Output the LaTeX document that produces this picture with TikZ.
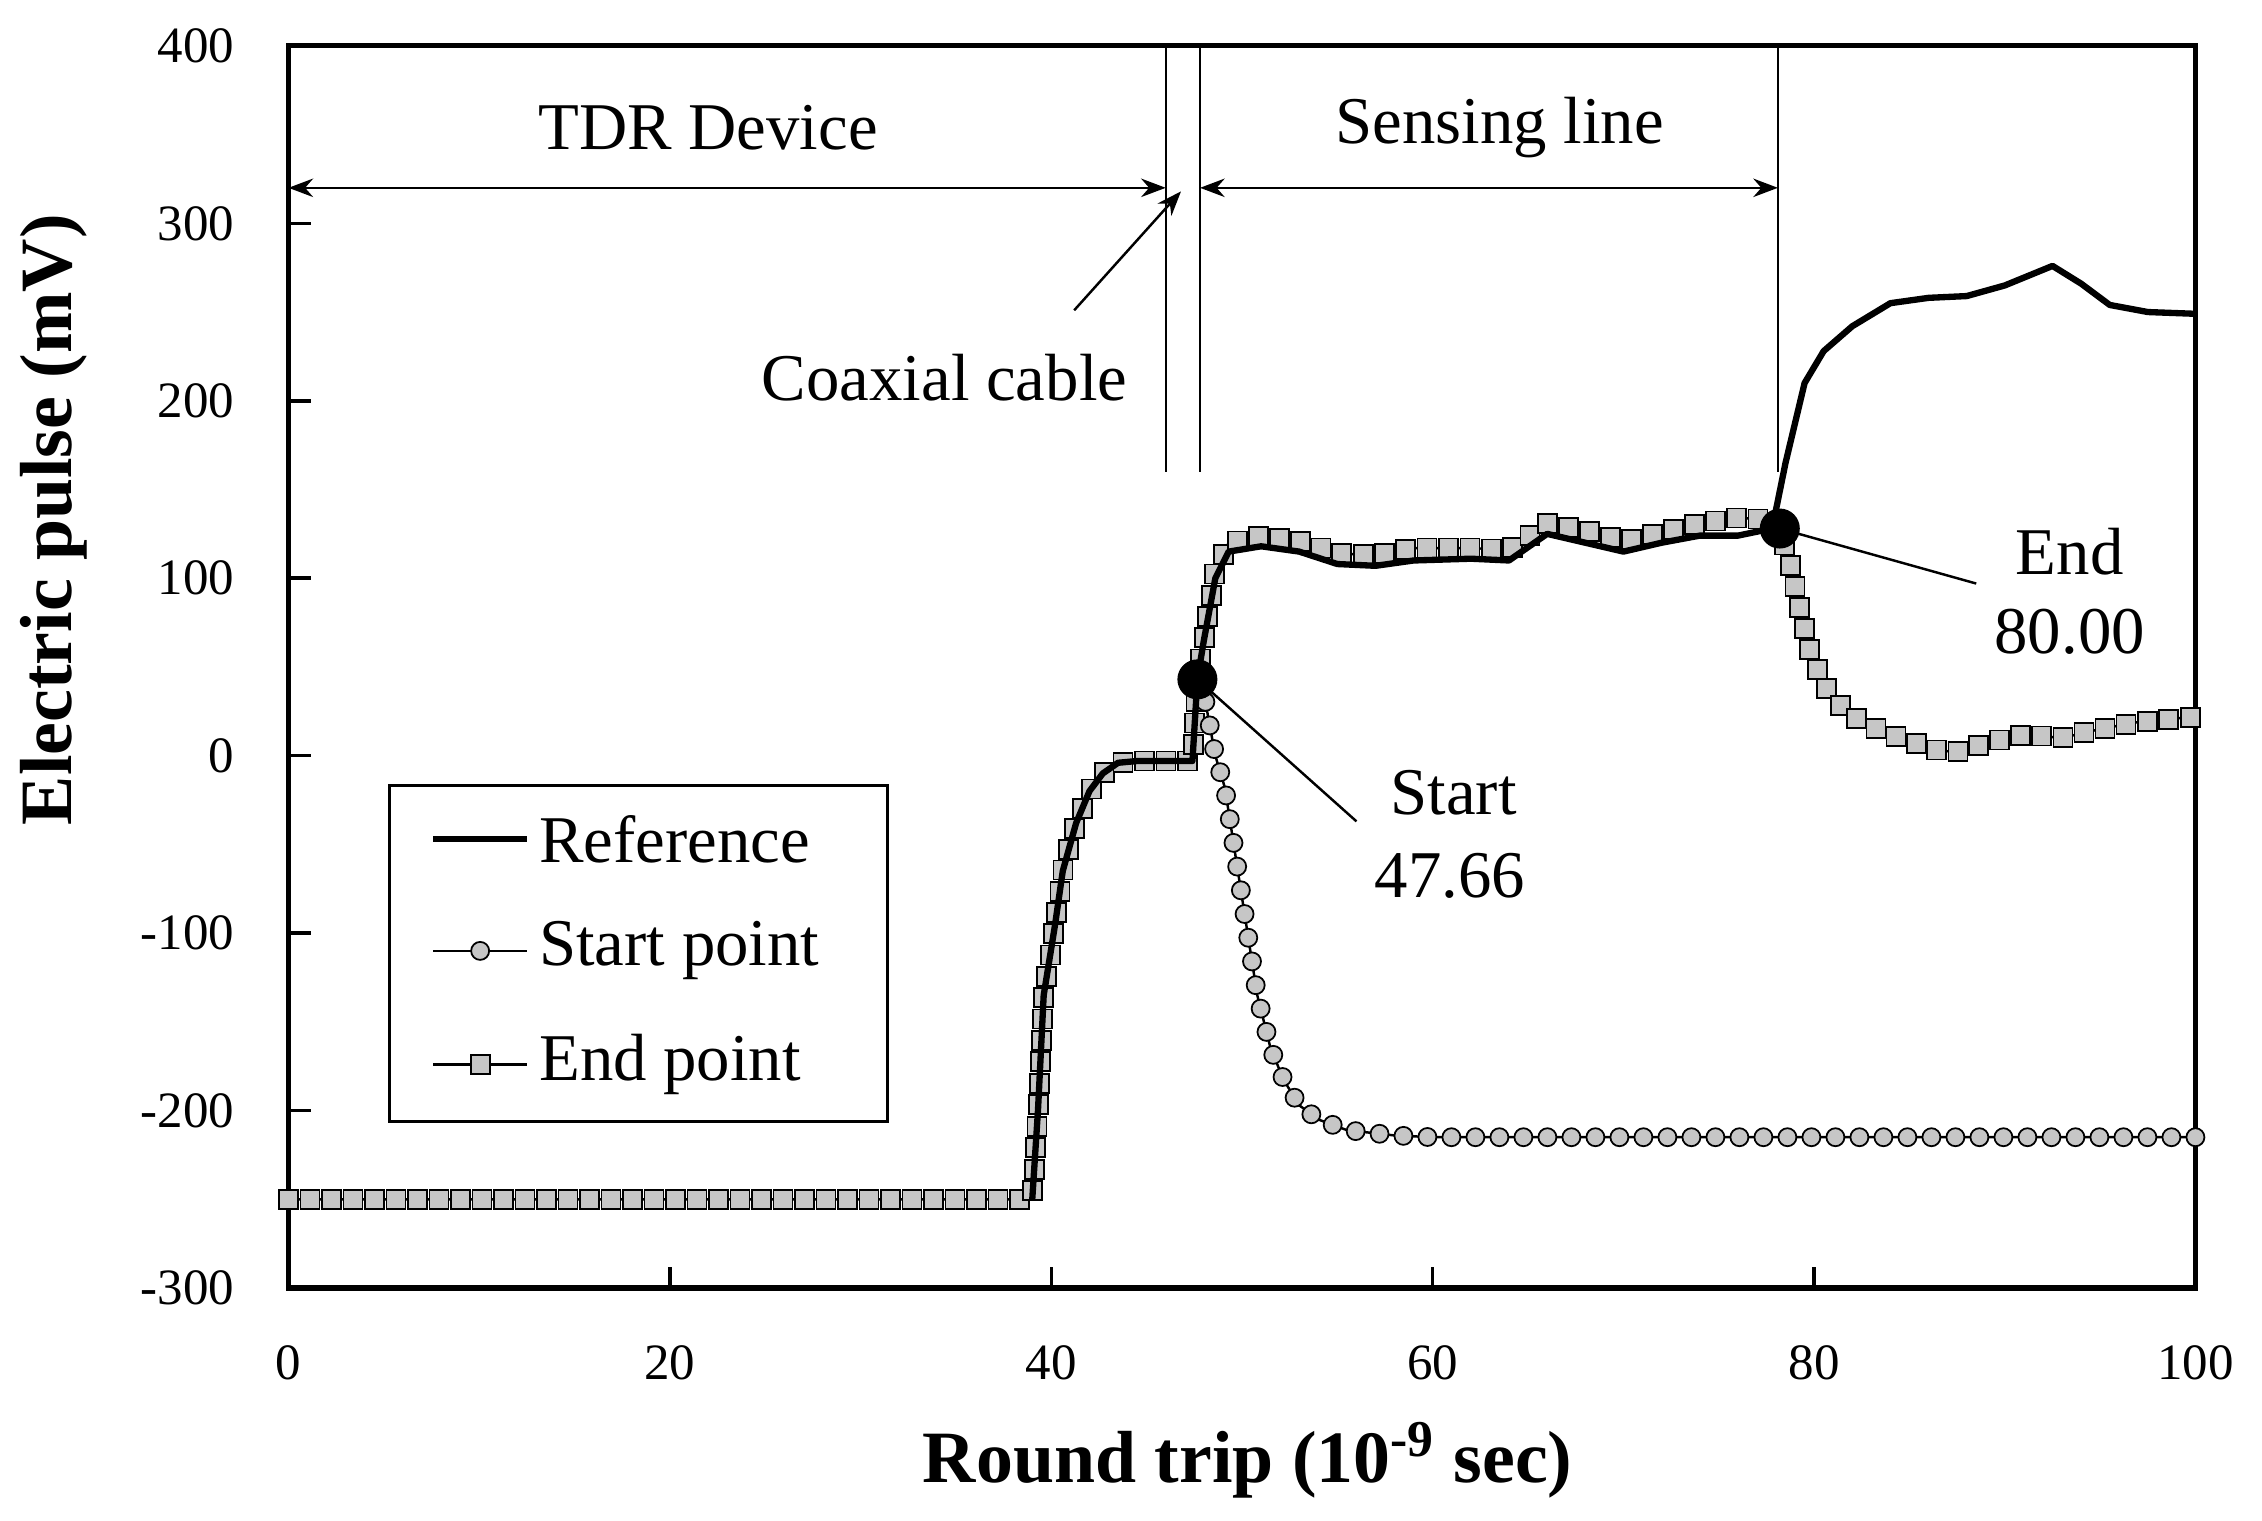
\documentclass[tikz,border=0pt]{standalone}
\usepackage{fontspec}
\setmainfont{Liberation Serif}
\usetikzlibrary{decorations.markings,arrows.meta}
\begin{document}
\begin{tikzpicture}[
 sq/.style={draw=black,fill=gray!45,line width=0.5pt,minimum size=0.19cm,inner sep=0pt,rectangle},
 ci/.style={draw=black,fill=gray!45,line width=0.5pt,minimum size=0.18cm,inner sep=0pt,circle},
 thin/.style={line width=0.7pt},
 refl/.style={line width=1.8pt},
 lab/.style={font=\fontsize{19}{22}\selectfont},
 tick/.style={font=\fontsize{14.5}{17}\selectfont},
 dbl/.style={line width=0.7pt,{Stealth[length=7pt]}-{Stealth[length=7pt]}}]
\useasboundingbox (0,0) rectangle (22.62,15.21);
\begin{scope}[shift={(2.885,7.653)},x=0.19071cm,y=0.017743cm]
\draw[line width=1.5pt] (0,-300) rectangle (100,400);
\foreach \x in {0,20,...,100}{\draw[line width=1pt] (\x,-300)--(\x,-288); \node[tick] (xt\x) at (\x,-342) {\x};}
\foreach \y in {-300,-200,...,400}{\draw[line width=1pt] (0,\y)--(1.2,\y); \node[tick,anchor=east] (yt\y) at (-2.2,\y) {\y};}
\node[font=\fontsize{21}{24}\selectfont\bfseries] (xlab) at (50.3,-397) {Round trip (10\textsuperscript{-9} sec)};
\node[font=\fontsize{21}{24}\selectfont\bfseries,rotate=90] (ylab) at (-12.3,133) {Electric pulse (mV)};
\draw[thin] (46,400)--(46,160) (47.8,400)--(47.8,160) (78.1,400)--(78.1,160);
\coordinate (a0) at (0,320); \coordinate (a1) at (46,320); \coordinate (a2) at (47.8,320); \coordinate (a3) at (78.1,320);
\draw[dbl] (a0)--(a1);
\draw[dbl] (a2)--(a3);
\node[lab] (tdr) at (22,354) {TDR Device};
\node[lab] (sens) at (63.5,354) {Sensing line};
\node[lab] (coax) at (34.4,213) {Coaxial cable};
\coordinate (cf) at (41.2,251); \coordinate (ct) at (46.8,318);
\draw[thin,-{Stealth[length=7pt]}] (cf)--(ct);
\def\endpts{(0,-250)(39,-250)(39.3,-200)(39.6,-135)(40.2,-95)(40.6,-65)(41.3,-38)(42,-20)(42.7,-10)(43.5,-4)(44.5,-3)(47.4,-3)(47.66,43)(48,65)(48.6,104)(49.3,120)(51,124)(53,121)(55,114)(57,113)(59,117)(62,117)(64,116)(66,131)(68,127)(70,121)(72,126)(74,131)(76,134)(77.8,133)(78.2,128)(78.8,105)(79.2,85)(79.8,58)(80.4,42)(81,32)(82,22)(83.5,14)(85,8)(86.5,3)(87.5,2)(89,7)(91,12)(93,10)(95,15)(97,19)(100,22)}
\def\startpts{(47.66,43)(48,35)(48.6,0)(49.1,-18)(50,-80)(50.8,-135)(51.5,-165)(52.2,-183)(53,-197)(54,-205)(55.5,-211)(58,-214)(60,-215)(100,-215)}
\draw[thin] plot coordinates {\endpts};
\path[decorate,decoration={markings,mark=between positions 0 and 1 step 0.215cm with {\node[sq]{};}}] plot coordinates {\endpts};
\draw[thin] plot coordinates {\startpts};
\path[decorate,decoration={markings,mark=between positions 0 and 1 step 0.24cm with {\node[ci]{};}}] plot coordinates {\startpts};
\draw[refl,line join=round] plot coordinates {(39,-250)(39.3,-200)(39.6,-135)(40.2,-95)(40.6,-65)(41.3,-38)(42,-20)(42.7,-10)(43.5,-4)(44.5,-3)(47.4,-3)(47.66,43)(48,65)(48.6,100)(49.3,115)(51,118)(53,115)(55,108)(57,107)(59,110)(62,111)(64,110)(66,125)(68,120)(70,115)(72,120)(74,124)(76,124)(77.8,128)(78.5,165)(79.5,210)(80.5,228)(82,242)(84,255)(86,258)(88,259)(90,265)(92.5,276)(94,266)(95.5,254)(97.5,250)(100,249)};
\node[circle,fill=black,minimum size=0.4cm,inner sep=0pt] (sdot) at (47.66,43) {};
\node[circle,fill=black,minimum size=0.4cm,inner sep=0pt] (edot) at (78.2,128) {};
\coordinate (sl) at (56,-37); \coordinate (el) at (88.5,97);
\draw[thin] (sdot.center)--(sl);
\draw[thin] (edot.center)--(el);
\node[lab] (st) at (61.1,-21) {Start};
\node[lab] (sv) at (60.9,-68) {47.66};
\node[lab] (en) at (93.4,115) {End};
\node[lab] (ev) at (93.4,70) {80.00};
\draw[line width=0.8pt,fill=white] (5.3,-17) rectangle (31.4,-206);
\coordinate (l1a) at (7.6,-47); \coordinate (l1b) at (12.5,-47);
\coordinate (l2a) at (7.6,-110); \coordinate (l2b) at (12.5,-110);
\coordinate (l3a) at (7.6,-174); \coordinate (l3b) at (12.5,-174);
\draw[refl] (l1a)--(l1b);
\draw[thin] (l2a)--(l2b); \node[ci] (lc) at (10.05,-110) {};
\draw[thin] (l3a)--(l3b); \node[sq] (ls) at (10.05,-174) {};
\node[lab,anchor=west] (t1) at (12.5,-47) {Reference};
\node[lab,anchor=west] (t2) at (12.5,-110) {Start point};
\node[lab,anchor=west] (t3) at (12.5,-174) {End point};
\end{scope}
\end{tikzpicture}
\end{document}
